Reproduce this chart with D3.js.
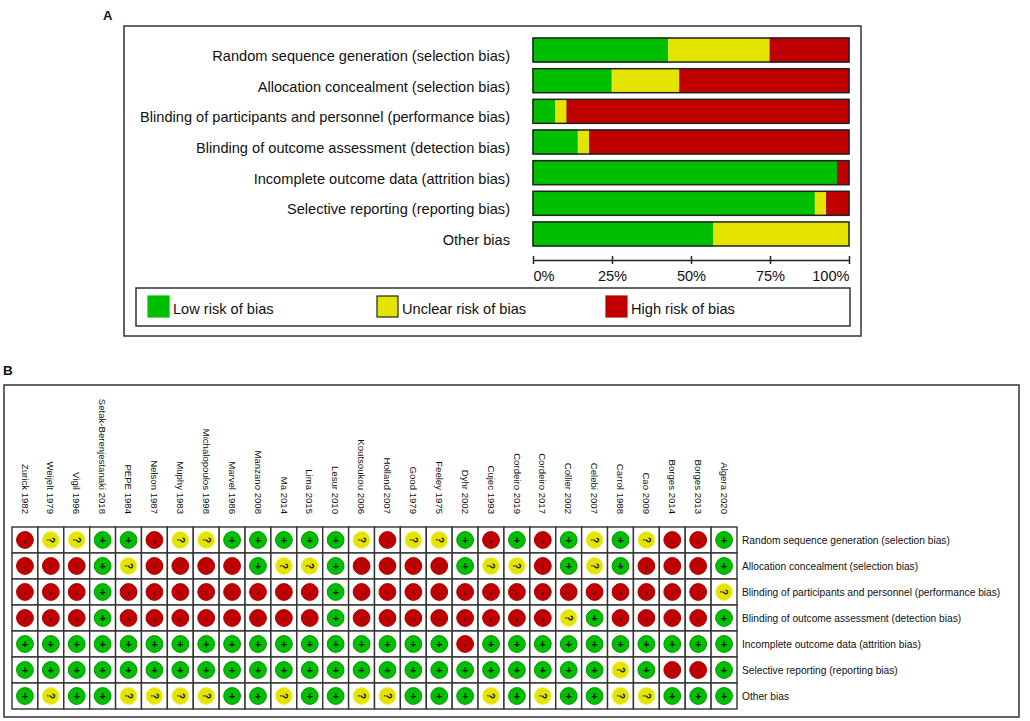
<!doctype html>
<html>
<head>
<meta charset="utf-8">
<title>Risk of bias</title>
<script src="https://cdn.jsdelivr.net/npm/d3@7/dist/d3.min.js"></script>
<style>
  body { margin: 0; background: #fff; }
  text { font-family: "Liberation Sans", Arial, sans-serif; fill: #111; }
</style>
</head>
<body>
<script>

// DATA
var domains = [
  "Random sequence generation (selection bias)",
  "Allocation concealment (selection bias)",
  "Blinding of participants and personnel (performance bias)",
  "Blinding of outcome assessment (detection bias)",
  "Incomplete outcome data (attrition bias)",
  "Selective reporting (reporting bias)",
  "Other bias"
];

var studies = [
  "Zurick 1982", "Weijelt 1979", "Vigil 1996", "Setak-Berenjestanaki 2018", "PEPE 1984",
  "Nelson 1987", "Muphy 1983", "Michalopoulos 1998", "Marvel 1986", "Manzano 2008",
  "Ma 2014", "Lima 2015", "Lesur 2010", "Koutsoukou 2006", "Holland 2007", "Good 1979",
  "Feeley 1975", "Dyhr 2002", "Cujec 1993", "Cordeiro 2019", "Cordeiro 2017",
  "Collier 2002", "Celebi 2007", "Carrol 1988", "Cao 2009", "Borges 2014",
  "Borges 2013", "Algera 2020"
];

// L = low, U = unclear, H = high (one entry per study, same order as studies)
var randomSeq     = ["H","U","U","L","L","H","U","U","L","L","L","L","L","U","H","U","U","L","H","L","H","L","U","L","U","H","H","L"];
var allocation    = ["H","H","H","L","U","H","H","H","H","L","U","U","L","H","H","H","H","L","U","U","H","L","U","L","H","H","H","L"];
var blindPart     = ["H","H","H","L","H","H","H","H","H","H","H","H","L","H","H","H","H","H","H","H","H","H","H","H","H","H","H","U"];
var blindOutcome  = ["H","H","H","L","H","H","H","H","H","H","H","H","L","H","H","H","H","H","H","H","H","U","L","H","H","H","H","L"];
var incomplete    = ["L","L","L","L","L","L","L","L","L","L","L","L","L","L","L","L","L","H","L","L","L","L","L","L","L","L","L","L"];
var selective     = ["L","L","L","L","L","L","L","L","L","L","L","L","L","L","L","L","L","L","L","L","L","L","L","U","L","H","H","L"];
var otherBias     = ["L","U","L","L","U","U","U","U","L","L","U","L","L","U","U","L","L","L","U","L","U","L","L","U","U","L","L","L"];

var ratings = [randomSeq, allocation, blindPart, blindOutcome, incomplete, selective, otherBias];

var levels = ["L","U","H"];
var legendLabels = ["Low risk of bias", "Unclear risk of bias", "High risk of bias"];
var tickValues = [0, 0.25, 0.5, 0.75, 1];

// COLOURS
var fillCol   = { L: "#00bf00", U: "#e4e400", H: "#c00000" };
var strokeCol = { L: "#009a00", U: "#f0f050", H: "#b00000" };
var symbol    = { L: "+", U: "?", H: "-" };

var w = 1030, h = 721;
var svg = d3.select("body").append("svg").attr("width", w).attr("height", h);

// ================= PANEL A =================
svg.append("text").text("A")
  .attr("x", 103).attr("y", 20)
  .attr("font-size", "13px").attr("font-weight", "bold");

svg.append("rect")
  .attr("x", 124).attr("y", 26).attr("width", 737).attr("height", 310)
  .attr("fill", "none").attr("stroke", "#333").attr("stroke-width", 1.5);

// proportions per domain
var summary = domains.map(function(d, i){
  var row = { domain: d };
  levels.forEach(function(l){
    row[l] = ratings[i].filter(function(v){ return v == l; }).length / studies.length;
  });
  return row;
});

var xA = d3.scaleLinear().domain([0, 1]).range([533, 849]);
var yA = d3.scaleBand().domain(domains).range([34.7, 249.3])
  .paddingInner(0.217).paddingOuter(0.1085);

var stacked = d3.stack().keys(levels)(summary);

var gBars = svg.append("g");
gBars.selectAll("g")
  .data(stacked)
  .enter()
  .append("g")
  .attr("fill", function(s){ return fillCol[s.key]; })
  .attr("stroke", function(s){ return strokeCol[s.key]; })
  .selectAll("rect")
  .data(function(s){ return s; })
  .enter()
  .append("rect")
  .attr("x", function(d){ return xA(d[0]); })
  .attr("y", function(d){ return yA(d.data.domain); })
  .attr("width", function(d){ return xA(d[1]) - xA(d[0]); })
  .attr("height", yA.bandwidth())
  .attr("stroke-width", 0.8);

// bar outlines
gBars.selectAll("rect.outline")
  .data(domains)
  .enter()
  .append("rect")
  .attr("class", "outline")
  .attr("x", xA(0)).attr("y", function(d){ return yA(d); })
  .attr("width", xA(1) - xA(0)).attr("height", yA.bandwidth())
  .attr("fill", "none").attr("stroke", "#222").attr("stroke-width", 1.5);

// category labels
svg.selectAll("text.catA")
  .data(domains)
  .enter()
  .append("text")
  .attr("class", "catA")
  .text(function(d){ return d; })
  .attr("x", 510)
  .attr("y", function(d){ return yA(d) + 23; })
  .attr("text-anchor", "end")
  .attr("font-size", "14.6px");

// axis
var axisA = svg.append("g")
  .attr("transform", "translate(0,260)")
  .call(d3.axisBottom(xA).tickValues(tickValues).tickFormat(d3.format(".0%"))
    .tickSizeOuter(0).tickSizeInner(4).tickPadding(0));
axisA.select(".domain").attr("stroke", "#222").attr("stroke-width", 1.5);
axisA.selectAll(".tick line").attr("y1", -4).attr("y2", 4)
  .attr("stroke", "#222").attr("stroke-width", 1.5);
axisA.selectAll(".tick text")
  .attr("y", 21).attr("dy", null)
  .attr("font-size", "14.6px")
  .attr("font-family", "Liberation Sans, Arial, sans-serif")
  .attr("fill", "#111")
  .attr("text-anchor", function(d, i){ return i == 0 ? "start" : (i == tickValues.length - 1 ? "end" : "middle"); });

// legend
svg.append("rect")
  .attr("x", 136).attr("y", 288).attr("width", 714).attr("height", 38)
  .attr("fill", "none").attr("stroke", "#333").attr("stroke-width", 1.5);

var legendX = [148, 377, 606];
var leg = svg.selectAll("g.leg")
  .data(levels)
  .enter()
  .append("g")
  .attr("class", "leg")
  .attr("transform", function(d, i){ return "translate(" + legendX[i] + ",296)"; });
leg.append("rect")
  .attr("width", 21).attr("height", 21)
  .attr("fill", function(d){ return fillCol[d]; })
  .attr("stroke", function(d){ return d == "U" ? "#222" : fillCol[d]; })
  .attr("stroke-width", 1.2);
leg.append("text")
  .text(function(d, i){ return legendLabels[i]; })
  .attr("x", 25).attr("y", 17.5)
  .attr("font-size", "14.6px");

// ================= PANEL B =================
svg.append("text").text("B")
  .attr("x", 3).attr("y", 375)
  .attr("font-size", "13.5px").attr("font-weight", "bold");

svg.append("rect")
  .attr("x", 4).attr("y", 385).attr("width", 1015).attr("height", 332)
  .attr("fill", "none").attr("stroke", "#333").attr("stroke-width", 1.5);

var xB = d3.scaleBand().domain(studies).range([12, 737]);
var yB = d3.scaleBand().domain(domains).range([527, 709]);

var cells = [];
domains.forEach(function(d, i){
  studies.forEach(function(s, j){
    cells.push({ domain: d, study: s, val: ratings[i][j] });
  });
});

var gCells = svg.append("g");
gCells.selectAll("rect")
  .data(cells)
  .enter()
  .append("rect")
  .attr("x", function(d){ return xB(d.study); })
  .attr("y", function(d){ return yB(d.domain); })
  .attr("width", xB.bandwidth())
  .attr("height", yB.bandwidth())
  .attr("fill", "#fff").attr("stroke", "#333").attr("stroke-width", 1.4);

var dots = gCells.selectAll("g.dot")
  .data(cells)
  .enter()
  .append("g")
  .attr("class", "dot")
  .attr("transform", function(d){
    return "translate(" + (xB(d.study) + xB.bandwidth() / 2) + "," + (yB(d.domain) + yB.bandwidth() / 2) + ")";
  });

dots.append("circle")
  .attr("r", 8.4)
  .attr("fill", function(d){ return fillCol[d.val]; })
  .attr("stroke", function(d){ return strokeCol[d.val]; })
  .attr("stroke-width", 1);

dots.append("text")
  .text(function(d){ return symbol[d.val]; })
  .attr("transform", function(d){ return d.val == "L" ? null : "rotate(90)"; })
  .attr("dy", function(d){ return d.val == "H" ? "0.28em" : "0.36em"; })
  .attr("text-anchor", function(d){ return d.val == "H" ? "start" : "middle"; })
  .attr("font-size", function(d){ return d.val == "L" ? "11px" : "10px"; })
  .attr("font-weight", function(d){ return d.val == "H" ? "normal" : "bold"; })
  .attr("fill", function(d){ return d.val == "H" ? "#300000" : "#111"; });

// study labels (rotated)
svg.selectAll("text.study")
  .data(studies)
  .enter()
  .append("text")
  .attr("class", "study")
  .text(function(d){ return d; })
  .attr("transform", function(d){
    return "translate(" + (xB(d) + xB.bandwidth() / 2) + ",514) rotate(90)";
  })
  .attr("dy", "0.35em")
  .attr("text-anchor", "end")
  .attr("font-size", "9.6px");

// domain labels on the right
svg.selectAll("text.catB")
  .data(domains)
  .enter()
  .append("text")
  .attr("class", "catB")
  .text(function(d){ return d; })
  .attr("x", 742)
  .attr("y", function(d){ return yB(d) + yB.bandwidth() / 2; })
  .attr("dy", "0.36em")
  .attr("font-size", "10.2px");

</script>
</body>
</html>
